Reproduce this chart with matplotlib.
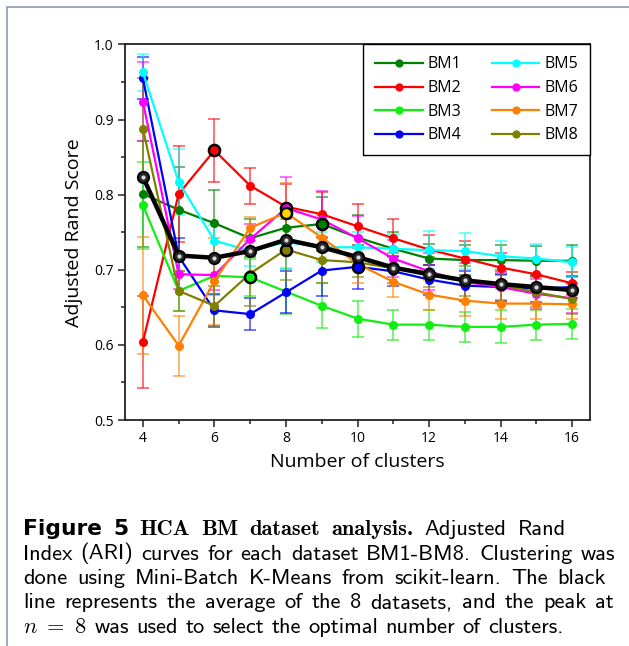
import os
import matplotlib
matplotlib.use('Agg')
import matplotlib.pyplot as plt
from matplotlib.font_manager import FontProperties
from matplotlib.patches import Rectangle
from matplotlib.ticker import MultipleLocator, FormatStrFormatter

# ---------------- data ----------------
clusters = list(range(4, 17))
names = ['BM1', 'BM2', 'BM3', 'BM4', 'BM5', 'BM6', 'BM7', 'BM8']
colors = ['#008000', '#ff0000', '#11ee11', '#0000ff', '#00ffff', '#ff00ff', '#ff8000', '#808000']

BM1 = [0.801, 0.780, 0.762, 0.742, 0.756, 0.761, 0.743, 0.728, 0.715, 0.713, 0.713, 0.712, 0.712]
BM2 = [0.604, 0.801, 0.859, 0.812, 0.784, 0.774, 0.758, 0.742, 0.727, 0.715, 0.703, 0.694, 0.682]
BM3 = [0.786, 0.672, 0.692, 0.690, 0.671, 0.652, 0.635, 0.627, 0.627, 0.624, 0.624, 0.627, 0.628]
BM4 = [0.955, 0.718, 0.646, 0.641, 0.670, 0.699, 0.704, 0.698, 0.687, 0.679, 0.677, 0.675, 0.677]
BM5 = [0.963, 0.817, 0.739, 0.725, 0.737, 0.730, 0.730, 0.728, 0.726, 0.725, 0.718, 0.715, 0.710]
BM6 = [0.924, 0.694, 0.693, 0.741, 0.782, 0.767, 0.742, 0.715, 0.698, 0.684, 0.677, 0.668, 0.662]
BM7 = [0.666, 0.599, 0.685, 0.756, 0.776, 0.743, 0.708, 0.684, 0.667, 0.659, 0.655, 0.655, 0.654]
BM8 = [0.888, 0.672, 0.652, 0.695, 0.727, 0.713, 0.710, 0.702, 0.697, 0.685, 0.680, 0.670, 0.661]
average = [0.824, 0.719, 0.716, 0.725, 0.740, 0.730, 0.717, 0.703, 0.694, 0.686, 0.681, 0.677, 0.673]

BM1_err = [0.071, 0.057, 0.044, 0.025, 0.020, 0.036, 0.030, 0.022, 0.020, 0.020, 0.020, 0.020, 0.021]
BM2_err = [0.061, 0.064, 0.042, 0.024, 0.030, 0.030, 0.029, 0.025, 0.020, 0.023, 0.020, 0.018, 0.015]
BM3_err = [0.058, 0.027, 0.025, 0.025, 0.030, 0.030, 0.024, 0.020, 0.020, 0.020, 0.022, 0.020, 0.020]
BM4_err = [0.028, 0.024, 0.022, 0.021, 0.028, 0.034, 0.029, 0.020, 0.020, 0.020, 0.018, 0.018, 0.015]
BM5_err = [0.025, 0.044, 0.020, 0.020, 0.035, 0.020, 0.020, 0.020, 0.025, 0.024, 0.020, 0.020, 0.020]
BM6_err = [0.053, 0.020, 0.020, 0.020, 0.042, 0.038, 0.030, 0.025, 0.025, 0.025, 0.020, 0.020, 0.020]
BM7_err = [0.078, 0.040, 0.058, 0.014, 0.040, 0.030, 0.025, 0.020, 0.020, 0.020, 0.020, 0.020, 0.020]
BM8_err = [0.068, 0.027, 0.027, 0.043, 0.040, 0.030, 0.020, 0.020, 0.020, 0.020, 0.020, 0.020, 0.020]

series = [BM1, BM2, BM3, BM4, BM5, BM6, BM7, BM8]
errors = [BM1_err, BM2_err, BM3_err, BM4_err, BM5_err, BM6_err, BM7_err, BM8_err]

# selected points (dataset -> number of clusters) drawn with black edge
selected = {'BM2': 6, 'BM3': 7, 'BM6': 8, 'BM7': 8, 'BM8': 8, 'BM1': 9, 'BM4': 10}
selected_face = {'BM7': '#ffd400'}

xticks = [4, 6, 8, 10, 12, 14, 16]
yticks = [0.5, 0.6, 0.7, 0.8, 0.9, 1.0]

# ---------------- figure ----------------
W, H = 629, 646
fig = plt.figure(figsize=(W / 100, H / 100), dpi=100)
fig.patch.set_facecolor('white')
fig.patches.append(Rectangle((7 / W, -0.1), 1.2, 1.1 - 7 / H, transform=fig.transFigure,
                             fill=False, edgecolor='#8a9db3', lw=1.2))

ax = fig.add_axes([125 / W, 1 - 420 / H, (590 - 125) / W, (420 - 44.5) / H])

lines = []
for name, col, ys, es in zip(names, colors, series, errors):
    ax.errorbar(clusters, ys, yerr=es, fmt='none', ecolor=col, elinewidth=1.3,
                capsize=4, capthick=1.3, alpha=0.6, zorder=2)
for name, col, ys in zip(names, colors, series):
    ln, = ax.plot(clusters, ys, color=col, lw=1.6, marker='o', markersize=5.5,
                  markeredgecolor=col, label=name, zorder=3)
    lines.append(ln)

for name, col, ys in zip(names, colors, series):
    if name in selected:
        i = clusters.index(selected[name])
        ax.plot([clusters[i]], [ys[i]], 'o', markersize=8, markerfacecolor=selected_face.get(name, col),
                markeredgecolor='black', markeredgewidth=1.8, zorder=4)

ax.plot(clusters, average, color='black', lw=3.2, marker='o', markersize=8,
        markerfacecolor='#2a2a2a', markeredgecolor='black', markeredgewidth=1.5, zorder=5)
ax.plot(clusters, average, ls='none', marker='o', markersize=3, markerfacecolor='#d8d8d8',
        markeredgecolor='none', zorder=6)

ax.set_xlim(3.5, 16.5)
ax.set_ylim(0.5, 1.0)
ax.set_xticks(xticks)
ax.set_yticks(yticks)
ax.xaxis.set_minor_locator(MultipleLocator(1))
ax.yaxis.set_minor_locator(MultipleLocator(0.05))
ax.yaxis.set_major_formatter(FormatStrFormatter('%.1f'))
ax.tick_params(which='both', direction='out', top=False, right=False, color='#222222', width=1.1)
ax.tick_params(which='major', length=5, labelsize=10, pad=3)
ax.tick_params(which='minor', length=3)
for lab in ax.get_xticklabels() + ax.get_yticklabels():
    lab.set_fontfamily('Open Sans')
for sp in ax.spines.values():
    sp.set_linewidth(1.3)
    sp.set_color('#222222')

ax.set_xlabel('Number of clusters', fontsize=14, family='Open Sans', labelpad=5)
ax.set_ylabel('Adjusted Rand Score', fontsize=14, family='Open Sans', labelpad=8)

leg = ax.legend(handles=lines, ncol=2, loc='upper right', bbox_to_anchor=(1, 1), borderaxespad=0,
                frameon=True, fancybox=False, edgecolor='black', framealpha=1,
                prop={'family': 'Open Sans', 'size': 11.5}, handlelength=3.0, handletextpad=0.3,
                columnspacing=1.9, labelspacing=0.48, borderpad=0.75, markerscale=0.9)
leg.get_frame().set_linewidth(1.0)
leg.set_zorder(10)

# ---------------- caption ----------------
fdir = os.path.join(matplotlib.get_data_path(), 'fonts', 'ttf')
renderer = fig.canvas.get_renderer()
plt.rcParams['mathtext.fontset'] = 'cm'


def make_fp(kind, size):
    if kind == 'ss':
        return FontProperties(fname=os.path.join(fdir, 'cmss10.ttf'), size=size)
    if kind == 'b':
        return FontProperties(fname=os.path.join(fdir, 'cmb10.ttf'), size=size)
    if kind == 'sb':
        return FontProperties(family='DejaVu Sans', weight='bold', size=size * 0.97)
    return FontProperties(size=size)


caption = [
    [('Figure 5', 'sb'), ('HCA BM dataset analysis.', 'b'), ('Adjusted Rand', 'ss')],
    [('Index (ARI) curves for each dataset BM1-BM8. Clustering was', 'ss')],
    [('done using Mini-Batch K-Means from scikit-learn. The black', 'ss')],
    [('line represents the average of the 8 datasets, and the peak at', 'ss')],
    [('$n\\ =\\ 8$', 'math'), ('was used to select the optimal number of clusters.', 'ss')],
]
right_ends = [566, 615, 606, 614, None]


def words_of(line, size):
    out = []
    for seg, kind in line:
        ws = [seg] if kind == 'math' else seg.split(' ')
        for w in ws:
            out.append((w, make_fp(kind, size)))
    return out


def measure(w, fp):
    t = fig.text(0, -1, w, fontproperties=fp)
    wd = t.get_window_extent(renderer).width
    t.remove()
    return wd


def draw_line(line, x0, ybase, size, right=None):
    ws = words_of(line, size)
    widths = [measure(w, fp) for w, fp in ws]
    space = size * 100 / 72 * 0.333
    if right is not None and len(ws) > 1:
        space = (right - x0 - sum(widths)) / (len(ws) - 1)
    x = x0
    for (w, fp), wd in zip(ws, widths):
        fig.text(x / W, 1 - ybase / H, w, fontproperties=fp, va='baseline', ha='left')
        x += wd + space


# calibrate font size on the natural width of line 2
base = 10.0
ws2 = words_of(caption[1], base)
nat = sum(measure(w, fp) for w, fp in ws2) + (len(ws2) - 1) * base * 100 / 72 * 0.333
size = base * 590 / nat

x0 = 23
ys = [535, 559.5, 584, 608.5, 633]
for line, yb, r in zip(caption, ys, right_ends):
    draw_line(line, x0, yb, size, r)

fig.savefig('out.png', dpi=100)
